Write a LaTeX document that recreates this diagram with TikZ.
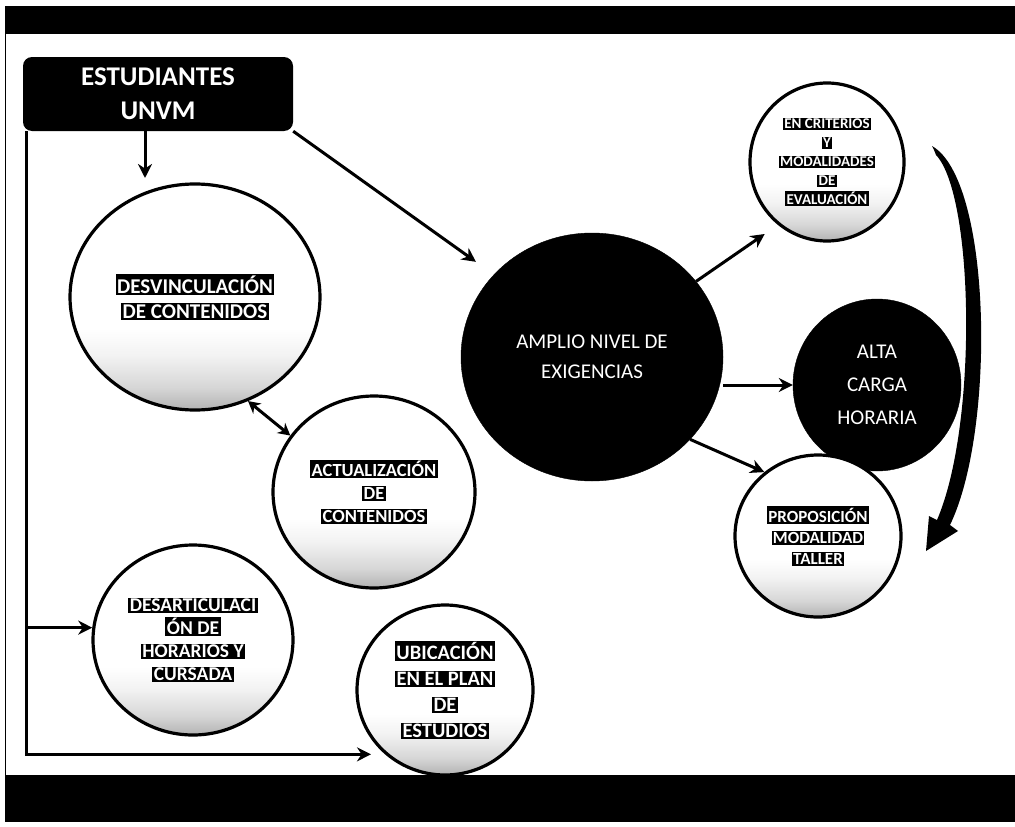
\documentclass[tikz,border=0pt]{standalone}
\usepackage{fontspec}
\setmainfont{Carlito}
\usetikzlibrary{shapes.geometric,arrows.meta}
\pgfdeclareverticalshading{cshade}{100bp}{color(0bp)=(black!30); color(25bp)=(black!30); color(30bp)=(black!16); color(37bp)=(black!5); color(43bp)=(white); color(100bp)=(white)}
\newcommand{\hlt}[1]{{\setlength{\fboxsep}{1.4pt}\colorbox{black}{\textcolor{white}{\bfseries #1}}}}
\tikzset{
  wcirc/.style={ellipse, draw=black, line width=3.2pt, shading=cshade, inner sep=0pt, align=center},
  bcirc/.style={ellipse, fill=black, draw=black, inner sep=0pt, align=center, text=white},
  arr/.style={line width=3pt, -{Stealth[length=14pt,width=14pt]}},
  dbl/.style={line width=3pt, {Stealth[length=12pt,width=13pt]}-{Stealth[length=12pt,width=13pt]}},
}
\begin{document}
\begin{tikzpicture}[x=1pt,y=-1pt]
\useasboundingbox (0,0) rectangle (1015,827);
% frame bars
\fill[black] (5,6) rectangle (1015,34);
\fill[black] (5,775) rectangle (1015,822);
\draw[line width=1pt] (5.5,34) -- (5.5,775);
% nodes
\node[fill=black, rounded corners=9pt, minimum width=270pt, minimum height=74pt, align=center, text=white,
      font=\fontsize{27}{34}\selectfont\bfseries] (est) at (158,94) {ESTUDIANTES\\UNVM};
\node[wcirc, minimum width=250pt, minimum height=226pt, font=\fontsize{21}{25}\selectfont] (desv) at (195,297)
  {\hlt{DESVINCULACIÓN}\\\hlt{DE CONTENIDOS}};
\node[wcirc, minimum width=202pt, minimum height=192pt, font=\fontsize{18.5}{23}\selectfont] (actu) at (374,492)
  {\hlt{ACTUALIZACIÓN}\\\hlt{DE}\\\hlt{CONTENIDOS}};
\node[wcirc, minimum width=200pt, minimum height=190pt, font=\fontsize{19.5}{23}\selectfont] (desart) at (193,640)
  {\hlt{DESARTICULACI}\\\hlt{ÓN DE}\\\hlt{HORARIOS Y}\\\hlt{CURSADA}};
\node[wcirc, minimum width=176pt, minimum height=170pt, font=\fontsize{20.5}{26}\selectfont] (ubic) at (445,690)
  {\hlt{UBICACIÓN}\\\hlt{EN EL PLAN}\\\hlt{DE}\\\hlt{ESTUDIOS}};
\node[bcirc, minimum width=262pt, minimum height=248pt, font=\fontsize{21}{30}\selectfont] (amplio) at (592,357)
  {AMPLIO NIVEL DE\\EXIGENCIAS};
\node[bcirc, minimum width=168pt, minimum height=172pt, font=\fontsize{21}{33}\selectfont] (alta) at (877,385)
  {ALTA\\CARGA\\HORARIA};
\node[wcirc, minimum width=154pt, minimum height=158pt, font=\fontsize{15}{19}\selectfont] (crit) at (827,162)
  {\hlt{EN CRITERIOS}\\\hlt{Y}\\\hlt{MODALIDADES}\\\hlt{DE}\\\hlt{EVALUACIÓN}};
\node[wcirc, minimum width=166pt, minimum height=162pt, font=\fontsize{17}{21}\selectfont] (prop) at (818,536)
  {\hlt{PROPOSICIÓN}\\\hlt{MODALIDAD}\\\hlt{TALLER}};
% connectors
\coordinate (l0) at (26,131);
\coordinate (dtip) at (145,178);
\draw[arr, shorten >=14pt] (l0) |- (ubic.227);
\draw[arr] (l0 |- desart.173) -- (desart.173);
\draw[arr] (est.south -| dtip) -- (dtip);
\draw[arr, shorten >=22pt] (est.south east) -- (amplio.140);
\draw[dbl] (desv.-63) -- (actu.146);
\draw[arr, shorten >=16pt] (amplio.36) -- (crit.232);
\draw[arr] (alta.west -| amplio.east) -- (alta.west);
\draw[arr] (amplio.-40) -- (prop.130);
% thick curved arrow from crit to prop
\coordinate (cs) at (934,150);
\fill[black] (cs) -- (932,146) .. controls (992,180) and (996,430) .. (950,525)
  -- (958,531) -- (926,551) -- (929,516) -- (937,520)
  .. controls (978,425) and (974,195) .. (936,155) -- cycle;
\end{tikzpicture}
\end{document}
